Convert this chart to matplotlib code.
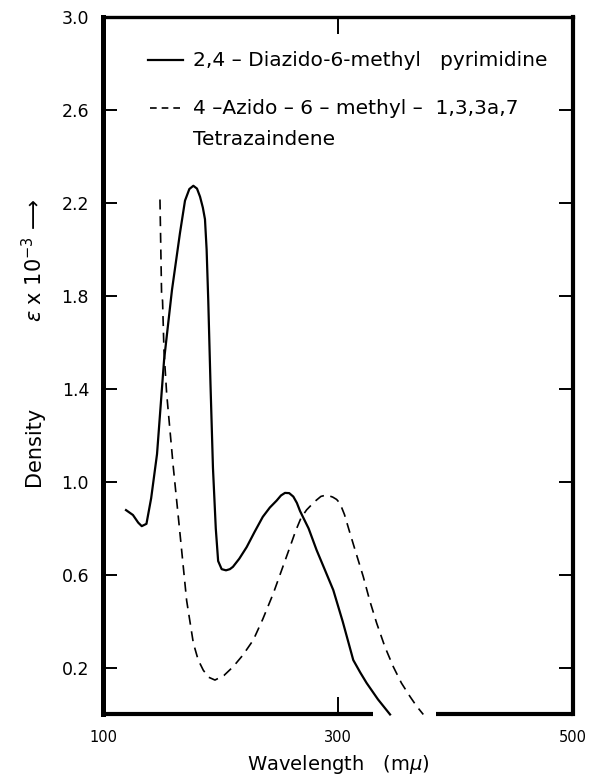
import numpy as np
import matplotlib
matplotlib.use('Agg')
import matplotlib.pyplot as plt

# --- Data (wavelength in m\u03bc, density) ---
diazido_wl = [119.6, 125.5, 130.0, 133.0, 137.0, 141.0, 146.0, 152.0, 158.7, 165.5,
              169.8, 173.5, 176.9, 180.0, 182.6, 185.0, 186.8, 188.2, 189.6, 191.5,
              193.6, 196.0, 198.0, 201.0, 204.7, 208.0, 210.6, 216.0, 222.3, 229.0,
              236.0, 242.0, 247.8, 251.5, 254.9, 258.5, 262.0, 265.0, 267.7, 275.0,
              281.8, 289.0, 296.0, 304.0, 313.0, 319.0, 324.4, 334.0, 344.3]
diazido_d = [0.879, 0.858, 0.825, 0.810, 0.820, 0.93, 1.12, 1.525, 1.825, 2.07,
             2.21, 2.26, 2.274, 2.262, 2.227, 2.18, 2.13, 2.00, 1.78, 1.42,
             1.06, 0.80, 0.66, 0.625, 0.62, 0.625, 0.635, 0.67, 0.72, 0.785,
             0.85, 0.89, 0.92, 0.942, 0.953, 0.952, 0.937, 0.91, 0.875, 0.80,
             0.707, 0.62, 0.535, 0.40, 0.234, 0.18, 0.135, 0.065, 0.0]

azido_wl = [148.5, 149.9, 150.7, 151.9, 154.2, 159.8, 165.5, 171.2, 176.9, 181.0,
            185.4, 190.0, 195.3, 203.0, 210.9, 219.0, 227.9, 236.0, 244.9, 252.0,
            259.1, 264.0, 268.5, 273.3, 280.0, 285.5, 290.4, 295.5, 298.8, 301.7,
            305.5, 310.2, 315.0, 321.5, 327.0, 332.9, 340.0, 347.0, 354.0, 361.3,
            367.0, 372.6]
azido_d = [2.215, 1.80, 1.78, 1.567, 1.38, 1.066, 0.78, 0.49, 0.307, 0.235,
           0.19, 0.160, 0.148, 0.168, 0.206, 0.255, 0.32, 0.41, 0.52, 0.62,
           0.72, 0.79, 0.845, 0.88, 0.915, 0.938, 0.944, 0.935, 0.925, 0.908,
           0.86, 0.78, 0.70, 0.593, 0.49, 0.393, 0.29, 0.206, 0.135, 0.077,
           0.035, 0.0]

x_ticks = [100, 300, 500]
y_ticks = [0.2, 0.6, 1.0, 1.4, 1.8, 2.2, 2.6, 3.0]
y_tick_labels = ['0.2', '0.6', '1.0', '1.4', '1.8', '2.2', '2.6', '3.0']

label_diazido = '2,4 \u2013 Diazido-6-methyl   pyrimidine'
label_azido = '4 \u2013Azido \u2013 6 \u2013 methyl \u2013  1,3,3a,7'
label_azido2 = 'Tetrazaindene'

plt.rcParams['font.family'] = ['DejaVu Sans']

fig = plt.figure(figsize=(5.98, 7.76), dpi=100)
ax = fig.add_axes([0.1722, 0.0793, 0.786, 0.8988])

ax.plot(diazido_wl, diazido_d, color='black', lw=1.6, clip_on=False)
ax.plot(azido_wl, azido_d, color='black', lw=1.2, dashes=(6, 4), clip_on=False)

ax.set_xlim(100, 500)
ax.set_ylim(0, 3.0)
ax.set_xticks(x_ticks)
ax.set_xticklabels([str(t) for t in x_ticks])
ax.set_yticks(y_ticks)
ax.set_yticklabels(y_tick_labels)

ax.tick_params(axis='y', direction='in', left=True, right=True, length=10, width=1.4,
               labelsize=12.5, pad=10)
ax.tick_params(axis='x', direction='in', bottom=True, top=True, length=12, width=1.4,
               labelsize=10.5, pad=11)

ax.spines['left'].set_linewidth(3.6)
ax.spines['top'].set_linewidth(2.4)
ax.spines['right'].set_linewidth(3.0)
ax.spines['bottom'].set_visible(False)
# bottom axis is broken where the curves run through it
for x0, x1 in [(0.0, 0.574), (0.7085, 1.0)]:
    ax.axhline(0, xmin=x0, xmax=x1, color='black', lw=3.0, clip_on=False,
               solid_capstyle='butt')

# legend drawn by hand
ax.plot([0.0957, 0.170], [0.938, 0.938], color='black', lw=1.6, transform=ax.transAxes)
ax.plot([0.0998, 0.164], [0.8695, 0.8695], color='black', lw=1.2, dashes=(4, 3),
        transform=ax.transAxes)
ax.text(0.1915, 0.938, label_diazido, transform=ax.transAxes, fontsize=14.5,
        va='center', ha='left')
ax.text(0.1915, 0.8695, label_azido, transform=ax.transAxes, fontsize=14.5,
        va='center', ha='left')
ax.text(0.1915, 0.8237, label_azido2, transform=ax.transAxes, fontsize=14.5,
        va='center', ha='left')

# x-axis title placed by baseline so it stays inside the figure
ax.text(0.5, -(770 - 714.5) / 697.5, 'Wavelength   (m$\\mu$)', transform=ax.transAxes,
        fontsize=14, ha='center', va='baseline')

fig.text(0.057, 1 - 446 / 776, 'Density', rotation=90, fontsize=15,
         ha='center', va='center')
fig.text(0.057, 1 - 260 / 776, '$\\epsilon$ x 10$^{-3}$ \u27f6', rotation=90,
         fontsize=15, ha='center', va='center')

fig.savefig('out.png', dpi=100)
